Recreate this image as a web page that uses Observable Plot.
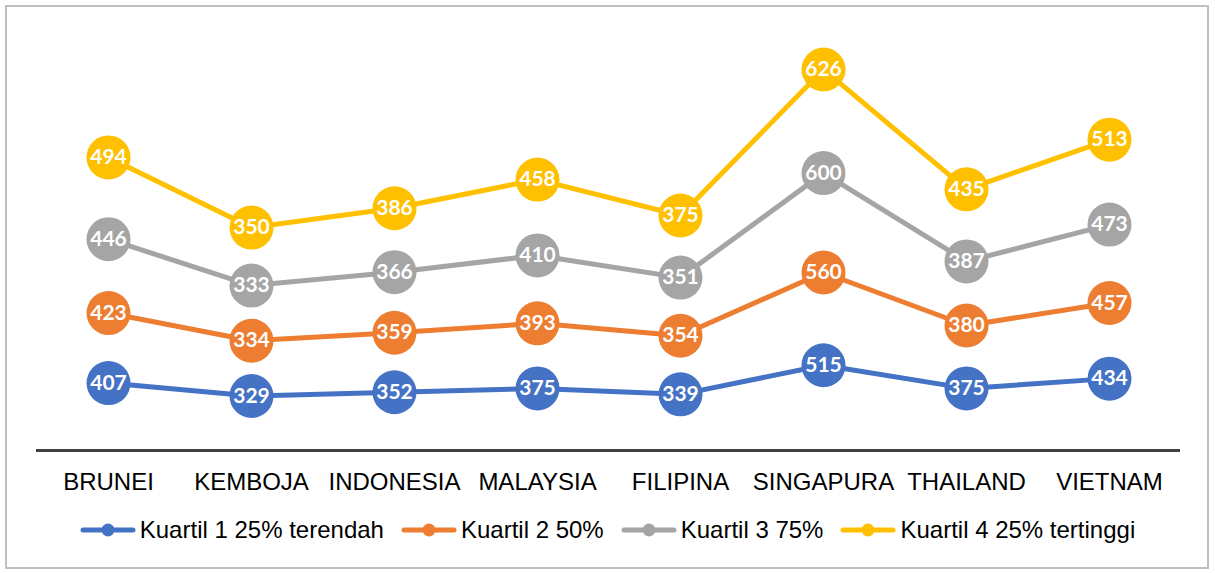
<!DOCTYPE html>
<html>
<head>
<meta charset="utf-8">
<script src="https://cdn.jsdelivr.net/npm/d3@7"></script>
<script src="https://cdn.jsdelivr.net/npm/@observablehq/plot@0.6"></script>
<style>
  html, body { margin: 0; padding: 0; background: #fff; }
  #wrap { position: relative; width: 1215px; height: 573px; overflow: hidden; font-family: "Liberation Sans", Arial, sans-serif; }
  #border { position: absolute; left: 5px; top: 5px; width: 1204px; height: 564px; border: 2px solid #bfbfbf; box-sizing: border-box; pointer-events: none; }
  #chart { position: absolute; left: 0; top: 0; }
  #legend { position: absolute; left: 0; top: 512px; width: 1215px; height: 36px; display: flex; justify-content: center; align-items: center; gap: 17px; font-size: 24px; color: #000; }
  .item { display: flex; align-items: center; }
  .item svg { margin-right: 4px; }
</style>
</head>
<body>
<div id="wrap">
  <div id="chart"></div>
  <div id="legend"></div>
  <div id="border"></div>
</div>
<script>
const countries = ["BRUNEI", "KEMBOJA", "INDONESIA", "MALAYSIA", "FILIPINA", "SINGAPURA", "THAILAND", "VIETNAM"];
const seriesNames = ["Kuartil 1 25% terendah", "Kuartil 2 50%", "Kuartil 3 75%", "Kuartil 4 25% tertinggi"];
const q1 = [407, 329, 352, 375, 339, 515, 375, 434];
const q2 = [423, 334, 359, 393, 354, 560, 380, 457];
const q3 = [446, 333, 366, 410, 351, 600, 387, 473];
const q4 = [494, 350, 386, 458, 375, 626, 435, 513];
const colors = ["#4472C4", "#ED7D31", "#A5A5A5", "#FFC000"];

const allValues = [q1, q2, q3, q4];
const data = [];
seriesNames.forEach((s, i) => {
  countries.forEach((c, j) => {
    data.push({country: c, series: s, value: allValues[i][j]});
  });
});

const stackOpts = {x: "country", y: "value", z: "series"};

const chart = Plot.plot({
  width: 1215,
  height: 505,
  marginLeft: 36,
  marginRight: 35,
  marginTop: 36,
  marginBottom: 55,
  style: {background: "transparent", fontFamily: "Liberation Sans, Arial, sans-serif"},
  x: {type: "point", domain: countries, padding: 0.5, label: null},
  y: {domain: [0, 2500], axis: null},
  color: {domain: seriesNames, range: colors},
  marks: [
    Plot.ruleY([0], {stroke: "#404040", strokeWidth: 3}),
    Plot.axisX({tickSize: 0, tickPadding: 22, fontSize: 24, fill: "#000", label: null}),
    Plot.lineY(data, Plot.stackY2({...stackOpts, stroke: "series", strokeWidth: 5, strokeLinejoin: "round", strokeLinecap: "round"})),
    Plot.dot(data, Plot.stackY2({...stackOpts, fill: "series", r: 22})),
    Plot.text(data, Plot.stackY2({...stackOpts, text: d => String(d.value), fill: "white", fontWeight: "bold", fontSize: 21, fontFamily: "Lato, sans-serif"}))
  ]
});
document.getElementById("chart").appendChild(chart);

const legend = document.getElementById("legend");
seriesNames.forEach((s, i) => {
  const item = document.createElement("div");
  item.className = "item";
  item.innerHTML = `<svg width="56" height="14"><line x1="3" y1="7" x2="53" y2="7" stroke="${colors[i]}" stroke-width="5" stroke-linecap="round"/><circle cx="28" cy="7" r="6.5" fill="${colors[i]}"/></svg><span>${s}</span>`;
  legend.appendChild(item);
});
</script>
</body>
</html>
